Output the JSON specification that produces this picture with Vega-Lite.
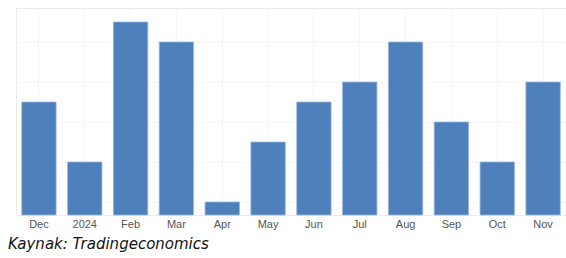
{
  "$schema": "https://vega.github.io/schema/vega-lite/v6.json",
  "width": 550,
  "height": 207,
  "autosize": {"type": "none"},
  "padding": {"left": 16, "top": 8, "right": 0, "bottom": 43},
  "background": "white",
  "title": {
    "text": "Kaynak: Tradingeconomics",
    "orient": "bottom",
    "anchor": "start",
    "font": "DejaVu Sans",
    "fontStyle": "italic",
    "fontWeight": "normal",
    "fontSize": 15,
    "color": "#111111",
    "dx": -8,
    "offset": 8
  },
  "data": {
    "values": [
      {"month": "Dec", "value": 5.65},
      {"month": "2024", "value": 2.65},
      {"month": "Feb", "value": 9.65},
      {"month": "Mar", "value": 8.65},
      {"month": "Apr", "value": 0.65},
      {"month": "May", "value": 3.65},
      {"month": "Jun", "value": 5.65},
      {"month": "Jul", "value": 6.65},
      {"month": "Aug", "value": 8.65},
      {"month": "Sep", "value": 4.65},
      {"month": "Oct", "value": 2.65},
      {"month": "Nov", "value": 6.65}
    ]
  },
  "mark": {"type": "bar", "color": "#4e80bc", "stroke": "#9bb6dc", "strokeWidth": 0.8},
  "encoding": {
    "x": {
      "field": "month",
      "type": "ordinal",
      "sort": null,
      "scale": {"paddingInner": 0.25, "paddingOuter": 0.125},
      "axis": {
        "title": null,
        "labelAngle": 0,
        "ticks": false,
        "domain": false,
        "labelPadding": 3,
        "labelFont": "Liberation Sans",
        "labelFontSize": 11,
        "labelColor": "#555555",
        "grid": true,
        "gridColor": "#ececec",
        "gridDash": [2, 2]
      }
    },
    "y": {
      "field": "value",
      "type": "quantitative",
      "scale": {"domain": [0, 10.35], "nice": false},
      "axis": {
        "title": null,
        "labels": false,
        "ticks": false,
        "domain": false,
        "values": [0.65, 2.65, 4.65, 6.65, 8.65],
        "gridColor": "#ececec",
        "gridDash": [2, 2]
      }
    }
  },
  "config": {
    "view": {"stroke": "#ececec"}
  }
}
